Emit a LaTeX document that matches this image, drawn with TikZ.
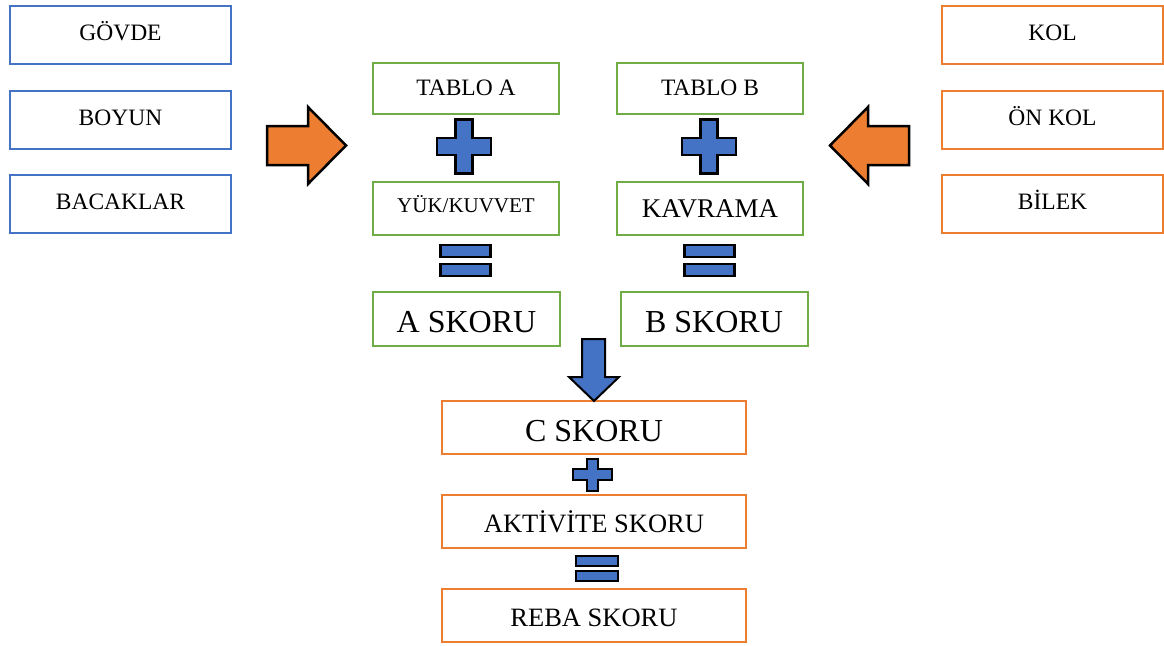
\documentclass[tikz,border=0pt]{standalone}
\usepackage{fontspec}
\setmainfont{Liberation Serif}
\definecolor{bblue}{HTML}{4472C4}
\definecolor{borange}{HTML}{ED7D31}
\definecolor{bgreen}{HTML}{70AD47}
\tikzset{
  box/.style={draw=#1, line width=2pt, fill=white, rectangle, inner sep=0pt, align=center},
  % label font size, text height and text depth
  lbl/.style n args={3}{font=\fontsize{#1}{#1}\selectfont, text height=#2, text depth=#3},
  side/.style={box=#1, minimum width=221pt, minimum height=58pt, lbl={23.5}{15.5pt}{5pt}},
  tbox/.style={box=bgreen, minimum width=186pt, minimum height=51pt, lbl={23.5}{15.5pt}{0pt}},
  sbox/.style={box=bgreen, minimum width=187pt, minimum height=54pt, lbl={32}{27pt}{0pt}},
  cbox/.style={box=borange, minimum width=304pt, minimum height=53pt},
  sym/.style={fill=bblue, draw=black, line width=2.5pt, line join=miter},
  bigarrow/.style={fill=borange, draw=black, line width=2.5pt, line join=miter},
}
\begin{document}
\begin{tikzpicture}[x=1pt, y=-1pt]
\useasboundingbox (0,0) rectangle (1164,645);

% body-part groups
\node[side=bblue] (govde) at (120.5,35) {GÖVDE};
\node[side=bblue] (boyun) at (120.5,120) {BOYUN};
\node[side=bblue] (bacak) at (120.5,204) {BACAKLAR};
\node[side=borange] (kol) at (1052.5,35) {KOL};
\node[side=borange] (onkol) at (1052.5,120) {ÖN KOL};
\node[side=borange] (bilek) at (1052.5,204) {BİLEK};

% table columns
\node[tbox] (ta) at (466,88) {TABLO A};
\node[tbox] (tb) at (710,88) {TABLO B};
\node[tbox, minimum height=53pt, lbl={21}{13.9pt}{6pt}] (yuk) at (466,208.5) {YÜK/KUVVET};
\node[tbox, minimum height=53pt, lbl={27}{17.8pt}{0pt}] (kav) at (710,208.5) {KAVRAMA};
\node[sbox] (as) at (466.5,319) {A SKORU};
\node[sbox] (bs) at (714,319) {B SKORU};

% final chain
\node[cbox, lbl={32}{27pt}{0pt}] (cs) at (594,427.5) {C SKORU};
\node[cbox, lbl={26.5}{22.5pt}{0pt}] (akt) at (594,521) {AKTİVİTE SKORU};
\node[cbox, lbl={26.5}{22.5pt}{0pt}] (reba) at (594,615.5) {REBA SKORU};

% plus signs
\foreach \cx/\cy in {464/146.5, 709/146.5} {
  \draw[sym, shift={(\cx,\cy)}]
    (-8.5,-27) -- (8.5,-27) -- (8.5,-8.5) -- (27,-8.5) -- (27,8.5) -- (8.5,8.5)
    -- (8.5,27) -- (-8.5,27) -- (-8.5,8.5) -- (-27,8.5) -- (-27,-8.5) -- (-8.5,-8.5) -- cycle;
}
\draw[sym, line width=2pt, shift={(592,474.5)}]
  (-5.5,-16) -- (5.5,-16) -- (5.5,-5.5) -- (19.5,-5.5) -- (19.5,5.5) -- (5.5,5.5)
  -- (5.5,16) -- (-5.5,16) -- (-5.5,5.5) -- (-19.5,5.5) -- (-19.5,-5.5) -- (-5.5,-5.5) -- cycle;

% equal signs
\foreach \cx in {465.5, 709.5} {
  \draw[sym] (\cx-25,245) rectangle (\cx+25,257);
  \draw[sym] (\cx-25,264) rectangle (\cx+25,276);
}
\draw[sym, line width=2pt] (576,556) rectangle (618,566);
\draw[sym, line width=2pt] (576,571) rectangle (618,581);

% block arrows
\draw[bigarrow] (267,126) -- (308,126) -- (308,107) -- (346,145.5) -- (308,184)
  -- (308,165) -- (267,165) -- cycle;
\draw[bigarrow] (909,126) -- (868,126) -- (868,107) -- (830,145.5) -- (868,184)
  -- (868,165) -- (909,165) -- cycle;
\draw[sym, line width=2pt] (582,339) -- (605,339) -- (605,377) -- (619,377) -- (594,401)
  -- (569,377) -- (582,377) -- cycle;
\end{tikzpicture}
\end{document}
